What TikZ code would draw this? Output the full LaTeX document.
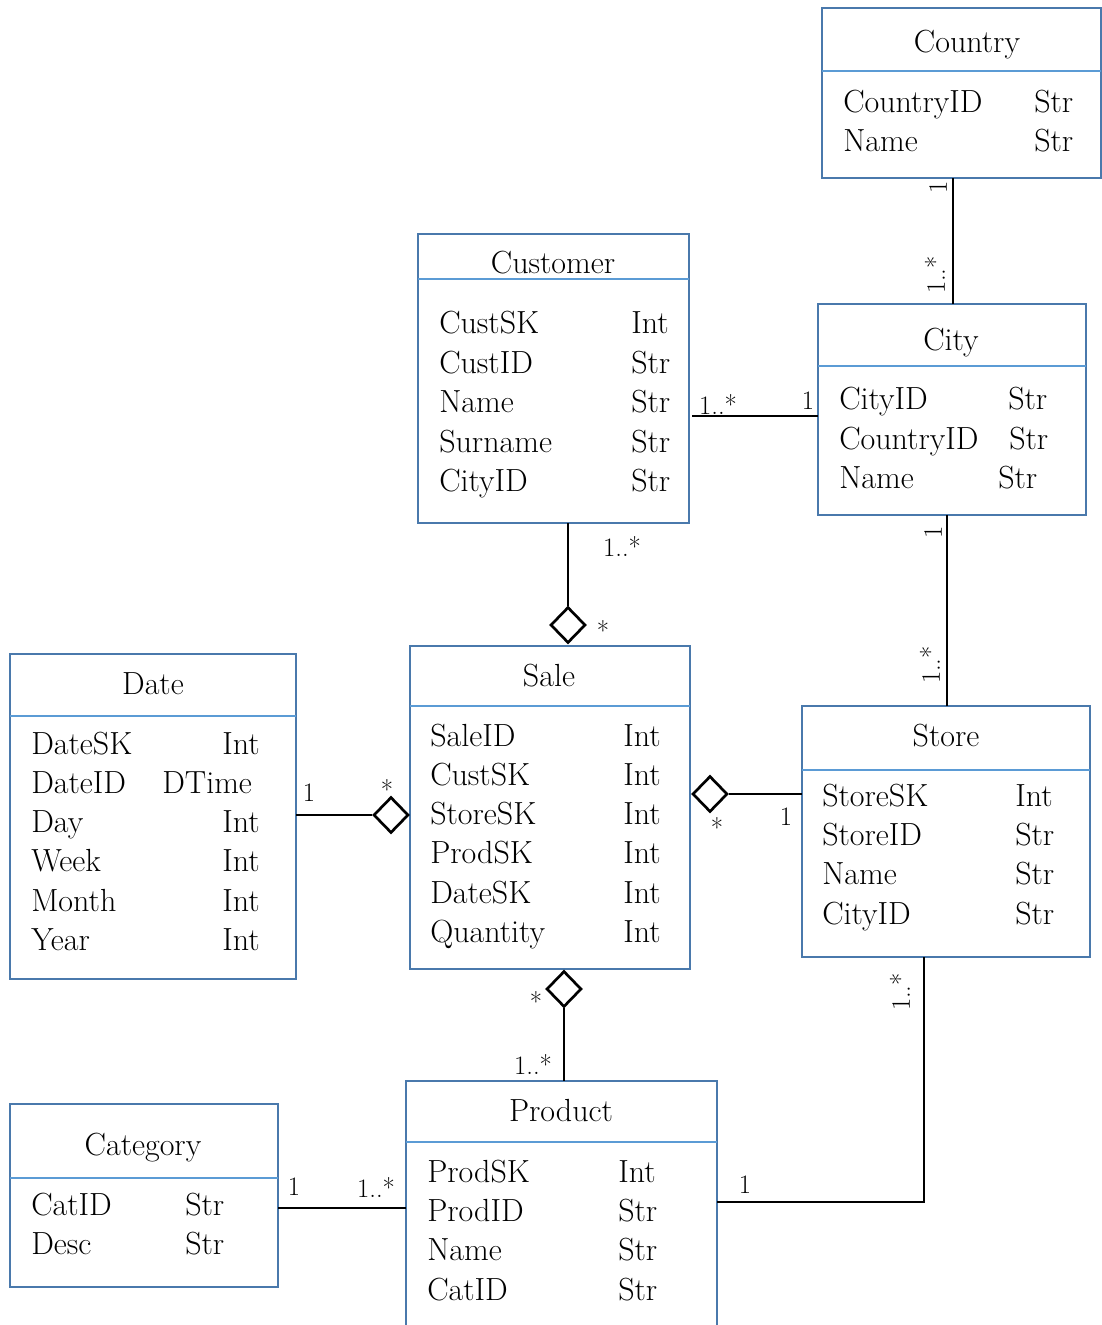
\documentclass[tikz,border=0pt]{standalone}
\usetikzlibrary{shapes.geometric}
\definecolor{boxline}{HTML}{4A79AC}
\definecolor{headline}{HTML}{5B9BD5}
\begin{document}
\begin{tikzpicture}[x=0.75pt,y=-0.75pt,
  ebox/.style={draw=boxline,line width=2pt,inner sep=0pt,outer sep=0pt,anchor=north west},
  divider/.style={draw=headline,line width=2pt},
  title/.style={inner sep=0pt,anchor=base,font=\fontsize{24}{28}\selectfont},
  attr/.style={inner sep=0pt,anchor=base west,font=\fontsize{24}{28}\selectfont},
  mult/.style={inner sep=0pt,font=\fontsize{20}{24}\selectfont},
  agg/.style={diamond,draw=black,line width=2pt,fill=white,inner sep=0pt,
    minimum width=35*0.75pt,minimum height=36*0.75pt},
  link/.style={draw=black,line width=1.1pt}]
\useasboundingbox (0,0) rectangle (1102,1325);

% ---------- Country ----------
\node[ebox,minimum width=279*0.75pt,minimum height=170*0.75pt] (country) at (822,8) {};
\draw[divider] (country.west |- 0,71) -- (country.east |- 0,71);
\node[title] (countryT) at (967,52) {Country};
\node[attr] (co1) at (843,112) {CountryID};
\node[attr] (co2) at (843,151) {Name};
\node[attr] (co1t) at (1034,112) {Str};
\node[attr] (co2t) at (1034,151) {Str};

% ---------- Customer ----------
\node[ebox,minimum width=271*0.75pt,minimum height=289*0.75pt] (cust) at (418,234) {};
\draw[divider] (cust.west |- 0,279) -- (cust.east |- 0,279);
\node[title] (custT) at (553,273) {Customer};
\node[attr] (cu1) at (439,333) {CustSK};
\node[attr] (cu2) at (439,373) {CustID};
\node[attr] (cu3) at (439,412) {Name};
\node[attr] (cu4) at (439,452) {Surname};
\node[attr] (cu5) at (439,491) {CityID};
\node[attr] (cu1t) at (631,333) {Int};
\node[attr] (cu2t) at (631,373) {Str};
\node[attr] (cu3t) at (631,412) {Str};
\node[attr] (cu4t) at (631,452) {Str};
\node[attr] (cu5t) at (631,491) {Str};

% ---------- City ----------
\node[ebox,minimum width=268*0.75pt,minimum height=211*0.75pt] (city) at (818,304) {};
\draw[divider] (city.west |- 0,366) -- (city.east |- 0,366);
\node[title] (cityT) at (951,350) {City};
\node[attr] (ci1) at (839,409) {CityID};
\node[attr] (ci2) at (839,449) {CountryID};
\node[attr] (ci3) at (839,488) {Name};
\node[attr] (ci1t) at (1008,409) {Str};
\node[attr] (ci2t) at (1009,449) {Str};
\node[attr] (ci3t) at (998,488) {Str};

% ---------- Date ----------
\node[ebox,minimum width=286*0.75pt,minimum height=325*0.75pt] (date) at (10,654) {};
\draw[divider] (date.west |- 0,716) -- (date.east |- 0,716);
\node[title] (dateT) at (153,694) {Date};
\node[attr] (da1) at (31,754) {DateSK};
\node[attr] (da2) at (31,793) {DateID};
\node[attr] (da3) at (31,832) {Day};
\node[attr] (da4) at (31,871) {Week};
\node[attr] (da5) at (31,911) {Month};
\node[attr] (da6) at (31,950) {Year};
\node[attr] (da1t) at (222,754) {Int};
\node[attr] (da2t) at (162,793) {DTime};
\node[attr] (da3t) at (222,832) {Int};
\node[attr] (da4t) at (222,871) {Int};
\node[attr] (da5t) at (222,911) {Int};
\node[attr] (da6t) at (222,950) {Int};

% ---------- Sale ----------
\node[ebox,minimum width=280*0.75pt,minimum height=323*0.75pt] (sale) at (410,646) {};
\draw[divider] (sale.west |- 0,706) -- (sale.east |- 0,706);
\node[title] (saleT) at (549,686) {Sale};
\node[attr] (sa1) at (430,746) {SaleID};
\node[attr] (sa2) at (430,785) {CustSK};
\node[attr] (sa3) at (430,824) {StoreSK};
\node[attr] (sa4) at (430,863) {ProdSK};
\node[attr] (sa5) at (430,903) {DateSK};
\node[attr] (sa6) at (430,942) {Quantity};
\node[attr] (sa1t) at (623,746) {Int};
\node[attr] (sa2t) at (623,785) {Int};
\node[attr] (sa3t) at (623,824) {Int};
\node[attr] (sa4t) at (623,863) {Int};
\node[attr] (sa5t) at (623,903) {Int};
\node[attr] (sa6t) at (623,942) {Int};

% ---------- Store ----------
\node[ebox,minimum width=288*0.75pt,minimum height=251*0.75pt] (store) at (802,706) {};
\draw[divider] (store.west |- 0,770) -- (store.east |- 0,770);
\node[title] (storeT) at (946,746) {Store};
\node[attr] (st1) at (822,806) {StoreSK};
\node[attr] (st2) at (822,845) {StoreID};
\node[attr] (st3) at (822,884) {Name};
\node[attr] (st4) at (822,924) {CityID};
\node[attr] (st1t) at (1015,806) {Int};
\node[attr] (st2t) at (1015,845) {Str};
\node[attr] (st3t) at (1015,884) {Str};
\node[attr] (st4t) at (1015,924) {Str};

% ---------- Category ----------
\node[ebox,minimum width=268*0.75pt,minimum height=183*0.75pt] (cat) at (10,1104) {};
\draw[divider] (cat.west |- 0,1178) -- (cat.east |- 0,1178);
\node[title] (catT) at (143,1155) {Category};
\node[attr] (ca1) at (31,1215) {CatID};
\node[attr] (ca2) at (31,1254) {Desc};
\node[attr] (ca1t) at (185,1215) {Str};
\node[attr] (ca2t) at (185,1254) {Str};

% ---------- Product ----------
\node[ebox,minimum width=311*0.75pt,minimum height=252*0.75pt] (prod) at (406,1081) {};
\draw[divider] (prod.west |- 0,1142) -- (prod.east |- 0,1142);
\node[title] (prodT) at (561,1121) {Product};
\node[attr] (pr1) at (427,1182) {ProdSK};
\node[attr] (pr2) at (427,1221) {ProdID};
\node[attr] (pr3) at (427,1260) {Name};
\node[attr] (pr4) at (427,1300) {CatID};
\node[attr] (pr1t) at (618,1182) {Int};
\node[attr] (pr2t) at (618,1221) {Str};
\node[attr] (pr3t) at (618,1260) {Str};
\node[attr] (pr4t) at (618,1300) {Str};

% ---------- aggregation diamonds ----------
\node[agg] (dcs) at (568,625) {};
\node[agg] (dss) at (710,794) {};
\node[agg] (dds) at (391,815) {};
\node[agg] (dsp) at (564,989) {};

% ---------- connectors ----------
\coordinate (custR) at (692,416);
\coordinate (bend) at (924,1202);
\draw[link] (country.south -| 953,0) -- (city.north -| 953,0);
\draw[link] (custR) -- (city.west |- custR);
\draw[link] (dcs.north) -- (cust.south -| dcs.north);
\draw[link] (city.south -| 947,0) -- (store.north -| 947,0);
\draw[link] (dss.east) -- (store.west |- dss.east);
\draw[link] (date.east |- dds.west) -- (dds.west);
\draw[link] (dsp.south) -- (prod.north -| dsp.south);
\draw[link] (cat.east |- 0,1208) -- (prod.west |- 0,1208);
\draw[link] (prod.east |- bend) -- (bend) -- (store.south -| bend);

% ---------- multiplicities ----------
\node[mult,rotate=90] (m1) at (938,187) {1};
\node[mult,rotate=90] (m2) at (935,275) {1..*};
\node[mult] (m3) at (718,405) {1..*};
\node[mult] (m4) at (808,401) {1};
\node[mult] (m5) at (622,547) {1..*};
\node[mult] (m6) at (603,631) {*};
\node[mult,rotate=90] (m7) at (933,532) {1};
\node[mult,rotate=90] (m8) at (930,665) {1..*};
\node[mult] (m9) at (717,828) {*};
\node[mult] (m10) at (786,817) {1};
\node[mult] (m11) at (309,793) {1};
\node[mult] (m12) at (387,790) {*};
\node[mult] (m13) at (536,1001) {*};
\node[mult] (m14) at (533,1064) {1..*};
\node[mult] (m15) at (294,1187) {1};
\node[mult] (m16) at (376,1187) {1..*};
\node[mult] (m17) at (745,1185) {1};
\node[mult,rotate=90] (m18) at (900,992) {1..*};
\end{tikzpicture}
\end{document}
